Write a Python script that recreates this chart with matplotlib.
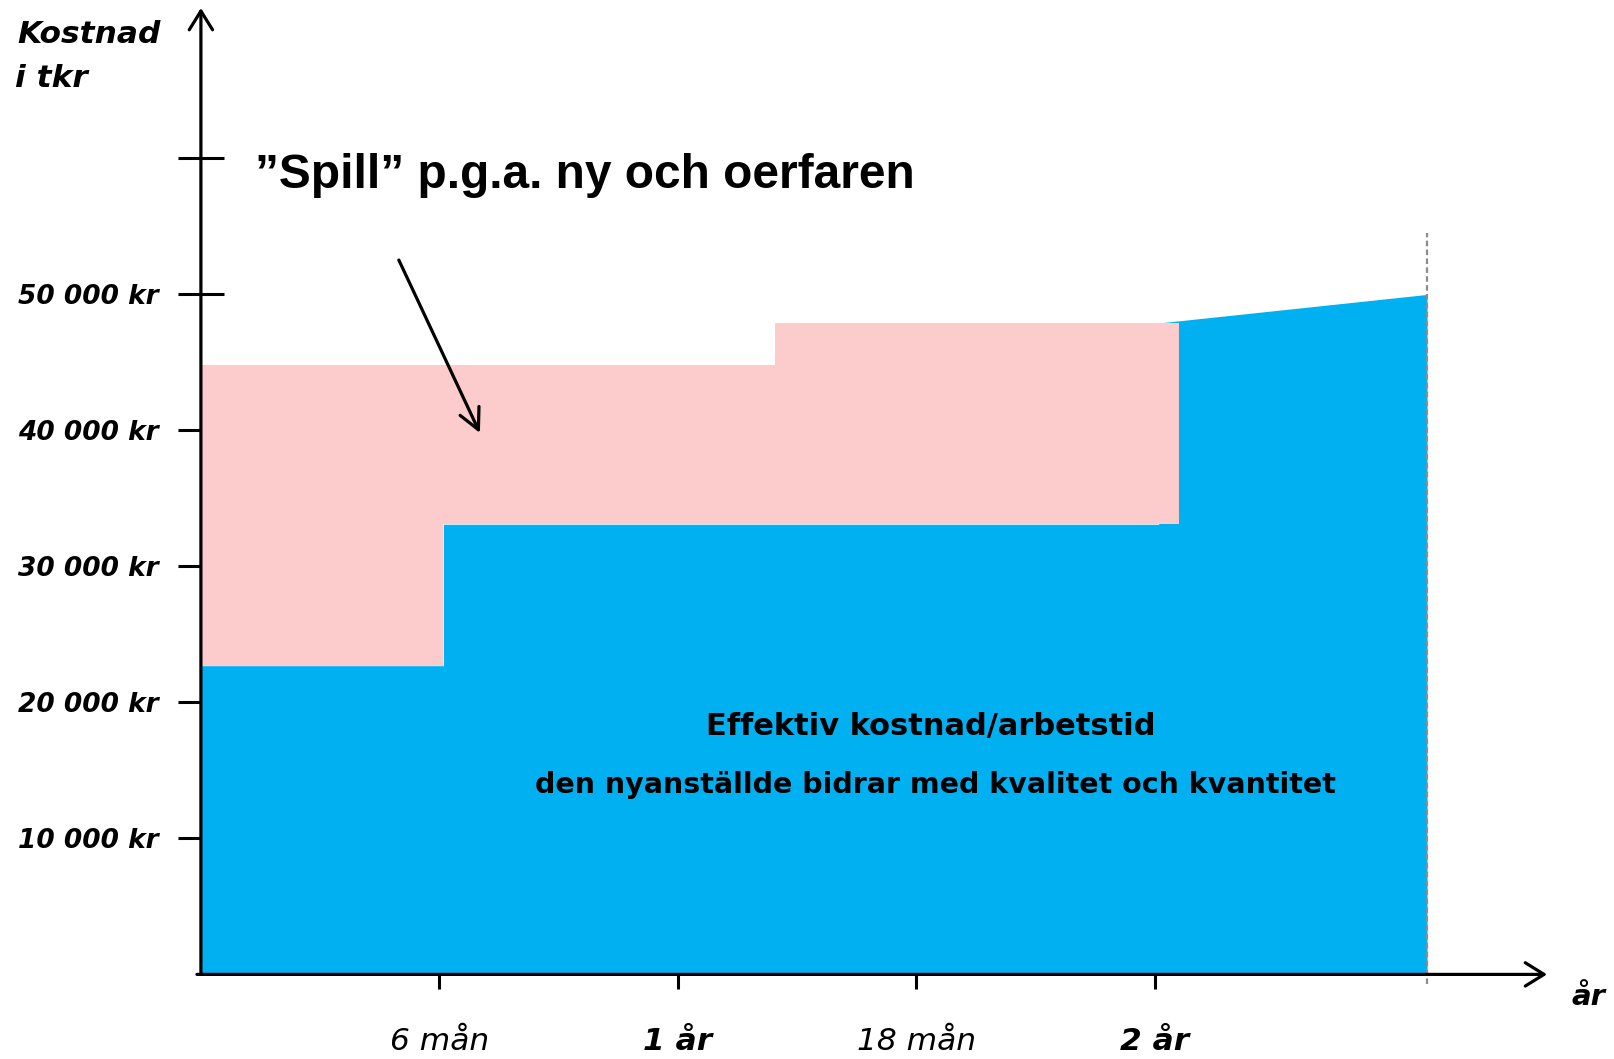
import matplotlib.pyplot as plt

# values (months / kr)
eff_months = [0, 6.1, 6.1, 24.1, 24.1, 30.85]
eff_cost = [22700, 22700, 33100, 33100, 47900, 50000]

spill_months = [0, 6.1, 14.45, 24.6]
spill_low = [22700, 33100, 33100, 33100]
spill_high = [44800, 44800, 47900, 47900]

cost_ticks = [10000, 20000, 30000, 40000, 50000, 60000]
cost_labels = ["10 000 kr", "20 000 kr", "30 000 kr", "40 000 kr", "50 000 kr", ""]
month_ticks = [6, 12, 18, 24]
month_labels = ["6 mån", "1 år", "18 mån", "2 år"]
month_bold = [False, True, False, True]

BLUE = "#00B0F0"
PINK = "#FCCCCC"
W, H = 1615, 1059

fig = plt.figure(figsize=(W / 100, H / 100), dpi=100)
ax = fig.add_axes([0, 0, 1, 1])
ax.set_xlim(-5.055, 35.58)
ax.set_ylim(-6221, 71650)

# effective cost (blue) and "spill" (pink) areas
ax.fill_between(eff_months, 0, eff_cost, color=BLUE, lw=0, zorder=1)
ax.fill_between(spill_months, spill_low, spill_high, step="post",
                color=PINK, lw=0, zorder=1.1)

# dashed end marker
end_m = eff_months[-1]
ax.plot([end_m, end_m], [-680, 54530], color="#8c8c8c", lw=1.6,
        ls=(0, (2.5, 1.5)), zorder=2)

# axes with arrows
for s in ax.spines.values():
    s.set_visible(False)
ax.spines["left"].set_position(("data", 0))
ax.spines["bottom"].set_position(("data", 0))
ax.set_axisbelow(True)

arr = dict(arrowstyle="->,head_length=0.45,head_width=0.28", lw=2.3,
           color="black", shrinkA=0, shrinkB=0, mutation_scale=30)
ax.annotate("", xy=(0, 71060), xytext=(0, 0), arrowprops=arr, zorder=3)
ax.annotate("", xy=(33.87, 0), xytext=(-0.1, 0), arrowprops=arr, zorder=3)

ax.set_yticks(cost_ticks, labels=cost_labels)
ax.set_xticks(month_ticks, labels=month_labels)
ax.tick_params(axis="y", direction="inout", length=33, width=2.2, pad=14,
               labelsize=19)
ax.tick_params(axis="x", direction="out", length=11, width=2.2, pad=27,
               labelsize=22.5)
for lab in ax.get_yticklabels():
    lab.set_fontweight("bold")
    lab.set_fontstyle("italic")
for lab, b in zip(ax.get_xticklabels(), month_bold):
    lab.set_fontstyle("italic")
    if b:
        lab.set_fontweight("bold")

# texts
def fx(px):
    return px / W

def fy(py):
    return 1 - py / H

fig.text(fx(17), fy(43), "Kostnad", fontsize=22.5, fontweight="bold",
         fontstyle="italic", va="baseline")
fig.text(fx(15), fy(87), "i tkr", fontsize=22.5, fontweight="bold",
         fontstyle="italic", va="baseline")
fig.text(fx(1589), fy(1005), "år", fontsize=21, fontweight="bold",
         fontstyle="italic", ha="center", va="baseline")

fig.text(fx(255), fy(188), "\u201dSpill\u201d p.g.a. ny och oerfaren",
         family="Liberation Sans", fontsize=34.5, fontweight="bold",
         va="baseline")
ax.annotate("", xy=(7.02, 39810), xytext=(4.98, 52530),
            arrowprops=dict(arrowstyle="->,head_length=0.5,head_width=0.25",
                            lw=2.3, color="black", shrinkA=0, shrinkB=0,
                            mutation_scale=30), zorder=3)

fig.text(fx(931), fy(735), "Effektiv kostnad/arbetstid", fontsize=22,
         fontweight="bold", ha="center", va="baseline")
fig.text(fx(935), fy(793), "den nyanställde bidrar med kvalitet och kvantitet",
         fontsize=20.5, fontweight="bold", ha="center", va="baseline")

fig.savefig("out.png", dpi=100)
